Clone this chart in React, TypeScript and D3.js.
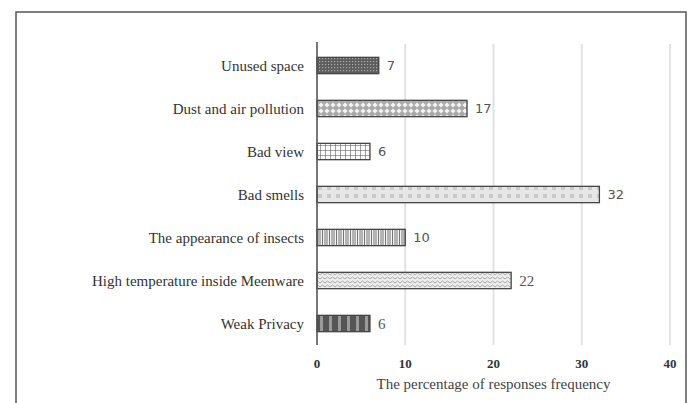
import * as d3 from "d3";
import { useEffect, useRef } from "react";

const categories = [
  "Unused space",
  "Dust and air pollution",
  "Bad view",
  "Bad smells",
  "The appearance of insects",
  "High temperature inside Meenware",
  "Weak Privacy",
];
const values = [7, 17, 6, 32, 10, 22, 6];
const patternIds = ["pUnused", "pDust", "pView", "pSmell", "pInsect", "pTemp", "pPrivacy"];
const xTicks = [0, 10, 20, 30, 40];
const xTitle = "The percentage of responses frequency";

const W = 689;
const H = 403;
const margin = { top: 44, right: 19, bottom: 58, left: 317 };

const addPatterns = (defs) => {
  // dark dotted
  let p = defs.append("pattern").attr("id", "pUnused").attr("patternUnits", "userSpaceOnUse").attr("width", 3).attr("height", 3);
  p.append("rect").attr("width", 3).attr("height", 3).attr("fill", "#5e5e5e");
  p.append("rect").attr("x", 1).attr("y", 1).attr("width", 1.2).attr("height", 1.2).attr("fill", "#a8a8a8");

  // diamonds on grey
  p = defs.append("pattern").attr("id", "pDust").attr("patternUnits", "userSpaceOnUse").attr("width", 6).attr("height", 6);
  p.append("rect").attr("width", 6).attr("height", 6).attr("fill", "#aaaaaa");
  p.append("path").attr("d", "M3,0.4 L5.6,3 L3,5.6 L0.4,3 Z").attr("fill", "#f4f4f4");

  // grid
  p = defs.append("pattern").attr("id", "pView").attr("patternUnits", "userSpaceOnUse").attr("width", 5).attr("height", 5);
  p.append("rect").attr("width", 5).attr("height", 5).attr("fill", "#fafafa");
  p.append("path").attr("d", "M0,0 H5 M0,0 V5").attr("stroke", "#555").attr("stroke-width", 1.1);

  // light dots
  p = defs.append("pattern").attr("id", "pSmell").attr("patternUnits", "userSpaceOnUse").attr("width", 9).attr("height", 8);
  p.append("rect").attr("width", 9).attr("height", 8).attr("fill", "#e6e6e6");
  p.append("rect").attr("x", 3).attr("y", 2).attr("width", 4).attr("height", 4).attr("fill", "#c9c9c9");

  // vertical lines
  p = defs.append("pattern").attr("id", "pInsect").attr("patternUnits", "userSpaceOnUse").attr("width", 7).attr("height", 7);
  p.append("rect").attr("width", 7).attr("height", 7).attr("fill", "#f2f2f2");
  p.append("path").attr("d", "M0.5,0 V7 M3,0 V7 M5,0 V7").attr("stroke", "#666").attr("stroke-width", 0.9);

  // fine waves
  p = defs.append("pattern").attr("id", "pTemp").attr("patternUnits", "userSpaceOnUse").attr("width", 5).attr("height", 4);
  p.append("rect").attr("width", 5).attr("height", 4).attr("fill", "#eeeeee");
  p.append("path").attr("d", "M0,3 L2.5,1 L5,3").attr("fill", "none").attr("stroke", "#a8a8a8").attr("stroke-width", 1);

  // dark bands
  p = defs.append("pattern").attr("id", "pPrivacy").attr("patternUnits", "userSpaceOnUse").attr("width", 9).attr("height", 9);
  p.append("rect").attr("width", 9).attr("height", 9).attr("fill", "#555");
  p.append("rect").attr("x", 5).attr("width", 3).attr("height", 9).attr("fill", "#9a9a9a");
};

const BarChart = () => {
  const ref = useRef(null);

  useEffect(() => {
    const svg = d3.select(ref.current);
    svg.selectAll("*").remove();

    addPatterns(svg.append("defs"));

    svg.append("rect").attr("width", W).attr("height", H).attr("fill", "white");
    svg
      .append("rect")
      .attr("x", 16)
      .attr("y", 12)
      .attr("width", 670)
      .attr("height", 420)
      .attr("fill", "white")
      .attr("stroke", "#555")
      .attr("stroke-width", 1.5);

    const x = d3.scaleLinear().domain([0, 40]).range([margin.left, W - margin.right]);
    const y = d3
      .scaleBand()
      .domain(categories)
      .range([margin.top, H - margin.bottom])
      .paddingInner(0.62)
      .paddingOuter(0.31);

    const top = margin.top;
    const bottom = H - margin.bottom;

    // gridlines
    svg
      .append("g")
      .selectAll("line")
      .data(xTicks.slice(1))
      .enter()
      .append("line")
      .attr("x1", (d) => x(d))
      .attr("x2", (d) => x(d))
      .attr("y1", top)
      .attr("y2", bottom)
      .attr("stroke", "#e2e2e2")
      .attr("stroke-width", 2);

    // bars
    svg
      .append("g")
      .selectAll("rect")
      .data(values)
      .enter()
      .append("rect")
      .attr("x", x(0))
      .attr("y", (d, i) => y(categories[i]))
      .attr("width", (d) => x(d) - x(0))
      .attr("height", y.bandwidth())
      .attr("fill", (d, i) => `url(#${patternIds[i]})`)
      .attr("stroke", "#444")
      .attr("stroke-width", 1.3);

    // axis line
    svg
      .append("line")
      .attr("x1", x(0))
      .attr("x2", x(0))
      .attr("y1", top - 2)
      .attr("y2", bottom)
      .attr("stroke", "#555")
      .attr("stroke-width", 1.6);

    // category labels
    svg
      .append("g")
      .selectAll("text")
      .data(categories)
      .enter()
      .append("text")
      .attr("x", x(0) - 13)
      .attr("y", (d) => y(d) + y.bandwidth() / 2)
      .attr("dy", "0.35em")
      .attr("text-anchor", "end")
      .attr("font-family", "Liberation Serif, Times New Roman, serif")
      .attr("font-size", 15)
      .attr("fill", "#333")
      .text((d) => d);

    // value labels
    svg
      .append("g")
      .selectAll("text")
      .data(values)
      .enter()
      .append("text")
      .attr("x", (d) => x(d) + 8)
      .attr("y", (d, i) => y(categories[i]) + y.bandwidth() / 2)
      .attr("dy", "0.36em")
      .attr("font-family", (d, i) => (i < 5 ? "DejaVu Sans, sans-serif" : "Liberation Serif, serif"))
      .attr("font-size", (d, i) => (i < 5 ? 13 : 15))
      .attr("fill", "#555")
      .text((d) => d);

    // tick labels
    svg
      .append("g")
      .selectAll("text")
      .data(xTicks)
      .enter()
      .append("text")
      .attr("x", (d) => x(d))
      .attr("y", bottom + 23)
      .attr("text-anchor", "middle")
      .attr("font-family", "Liberation Serif, Times New Roman, serif")
      .attr("font-weight", "bold")
      .attr("font-size", 13)
      .attr("fill", "#333")
      .text((d) => d);

    svg
      .append("text")
      .attr("x", (x(0) + x(40)) / 2)
      .attr("y", bottom + 44)
      .attr("text-anchor", "middle")
      .attr("font-family", "Liberation Serif, Times New Roman, serif")
      .attr("font-size", 15)
      .attr("fill", "#444")
      .text(xTitle);
  }, []);

  return (
    <svg
      ref={ref}
      width={W}
      height={H}
      style={{ position: "absolute", left: 0, top: 0, display: "block" }}
    ></svg>
  );
};

export default function App() {
  return <BarChart />;
}
